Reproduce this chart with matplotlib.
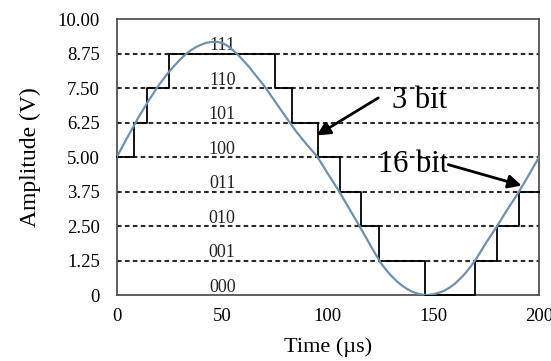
import matplotlib.pyplot as plt

plt.rcParams['font.family'] = ['Liberation Serif', 'DejaVu Serif']

# analog signal (denser near the peak and the trough)
time_us = [0, 5, 10, 15, 20, 25, 30, 32.5, 35, 37.5, 40, 42.5, 45, 47.5, 50,
           52.5, 55, 57.5, 60, 62.5, 65, 70, 75, 80, 85, 90, 95, 100, 105, 110,
           115, 120, 125, 127.5, 130, 132.5, 135, 137.5, 140, 142.5, 145, 147.5,
           150, 152.5, 155, 157.5, 160, 162.5, 165, 167.5, 170, 175, 180, 185,
           190, 195, 200]
amplitude_v = [5.00, 5.71, 6.40, 7.04, 7.62, 8.12, 8.54, 8.72, 8.87, 8.99, 9.08,
               9.15, 9.18, 9.18, 9.14, 9.04, 8.88, 8.71, 8.50, 8.29, 8.05, 7.57,
               7.02, 6.47, 5.93, 5.46, 5.02, 4.40, 3.80, 3.15, 2.50, 1.82, 1.17,
               0.92, 0.70, 0.51, 0.35, 0.22, 0.12, 0.05, 0.01, 0.00, 0.03, 0.08,
               0.15, 0.26, 0.40, 0.58, 0.78, 1.02, 1.28, 1.90, 2.48, 3.10, 3.68,
               4.33, 5.00]

# 3 bit quantised staircase
step_edges = [0, 8.3, 14.2, 24.9, 75.1, 82.8, 95.2, 105.7, 115.7, 124.3,
              146.1, 169.6, 179.9, 190.6, 200]
step_levels = [5.0, 6.25, 7.5, 8.75, 7.5, 6.25, 5.0, 3.75, 2.5, 1.25,
               0.0, 1.25, 2.5, 3.75]

levels = [1.25, 2.5, 3.75, 5.0, 6.25, 7.5, 8.75]
code_levels = [0, 1.25, 2.5, 3.75, 5.0, 6.25, 7.5, 8.75]
codes = ['000', '001', '010', '011', '100', '101', '110', '111']

yticks = [0, 1.25, 2.5, 3.75, 5.0, 6.25, 7.5, 8.75, 10.0]
ytick_labels = ['0', '1.25', '2.50', '3.75', '5.00', '6.25', '7.50', '8.75', '10.00']
xticks = [0, 50, 100, 150, 200]

fig = plt.figure(figsize=(5.51, 3.61), dpi=100)
ax = fig.add_axes([0.2118, 0.1828, 0.7664, 0.7637])

for lv in levels:
    ax.axhline(lv, color='#2a2a2a', lw=1.5, dashes=(2.2, 1.6), zorder=1)

for lv, code in zip(code_levels, codes):
    ax.text(50, lv + 0.12, code, ha='center', va='baseline', fontsize=13,
            color='#222222', zorder=2)

ax.step(step_edges, step_levels + [step_levels[-1]], where='post',
        color='black', lw=1.3, zorder=3, clip_on=False)
ax.plot(time_us, amplitude_v, color='#7090AE', lw=1.6, zorder=4)

ax.annotate('', xy=(94.7, 5.79), xytext=(123.9, 7.15),
            arrowprops=dict(arrowstyle='-|>', color='black', lw=2,
                            mutation_scale=20, shrinkA=0, shrinkB=0), zorder=5)
ax.text(130.2, 6.77, '3 bit', fontsize=22, ha='left', va='baseline', zorder=5)

ax.annotate('', xy=(191.8, 3.97), xytext=(157, 4.73),
            arrowprops=dict(arrowstyle='-|>', color='black', lw=2,
                            mutation_scale=20, shrinkA=0, shrinkB=0), zorder=5)
ax.text(123.9, 4.45, '16 bit', fontsize=22, ha='left', va='baseline', zorder=5)

ax.set_xlim(0, 200)
ax.set_ylim(0, 10)
ax.set_xticks(xticks)
ax.set_yticks(yticks)
ax.set_yticklabels(ytick_labels)
ax.tick_params(length=0, labelsize=13.5, pad=12)
ax.tick_params(axis='x', pad=9)
for sp in ax.spines.values():
    sp.set_color('#444444')
    sp.set_linewidth(1.2)

ax.set_xlabel('Time (\u00b5s)', fontsize=16, labelpad=9)
ax.set_ylabel('Amplitude (V)', fontsize=17, labelpad=12)

fig.savefig('out.png', dpi=100, facecolor='white')
